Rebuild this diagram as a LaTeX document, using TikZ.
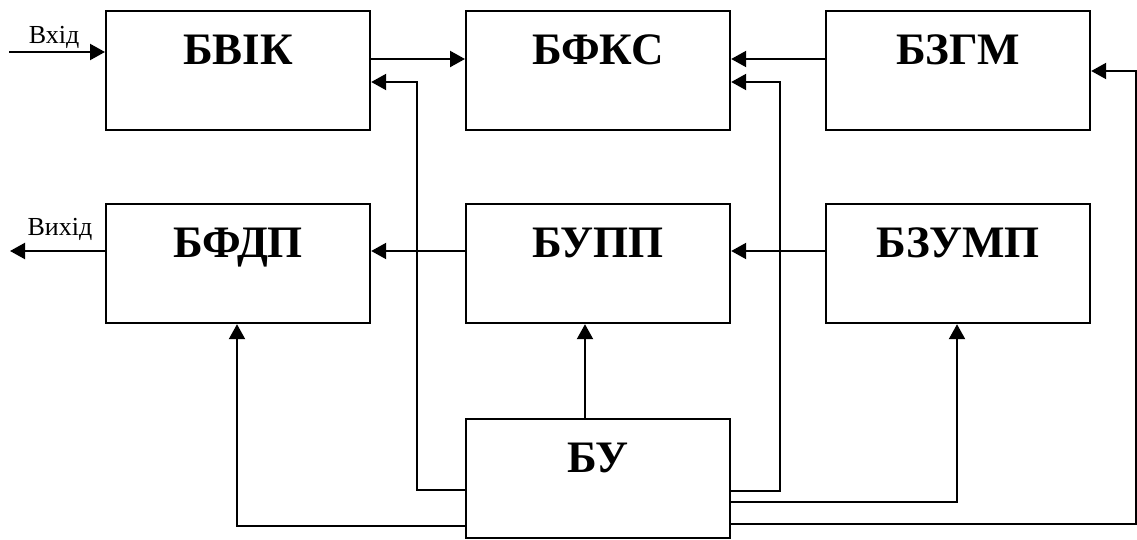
\documentclass[tikz,border=0pt]{standalone}
\usepackage{fontspec}
\setmainfont{Liberation Serif}
\usetikzlibrary{arrows.meta}
\begin{document}
\begin{tikzpicture}[x=1pt,y=-1pt,
  blk/.style={draw,line width=2.2pt,minimum width=264pt,minimum height=119pt,anchor=north west,inner sep=0pt,
    label={[anchor=base,yshift=-54pt,font=\fontsize{45}{48}\selectfont\bfseries]north:#1}},
  wire/.style={line width=2.2pt},
  arr/.style={wire,-{Triangle[length=15pt,width=16pt]}},
  io/.style={font=\fontsize{26}{28}\selectfont,anchor=base}]
\useasboundingbox (0,0) rectangle (1137,539);
\node[blk=БВІК]  (bvik)  at (105,10) {};
\node[blk=БФКС]  (bfks)  at (465,10) {};
\node[blk=БЗГМ]  (bzgm)  at (825,10) {};
\node[blk=БФДП]  (bfdp)  at (105,203) {};
\node[blk=БУПП]  (bupp)  at (465,203) {};
\node[blk=БЗУМП] (bzump) at (825,203) {};
\node[blk=БУ]    (bu)    at (465,418) {};
\coordinate (in) at (9,52);
\coordinate (out) at (10,251);
\node[io] (tin) at (54,43) {Вхід};
\node[io] (tout) at (60,235) {Вихід};
% input / output
\draw[arr] (in) -- (in -| bvik.west);
\draw[arr] (out -| bfdp.west) -- (out);
% top row
\draw[arr] (bvik.east |- 0,59) -- (bfks.west |- 0,59);
\draw[arr] (bzgm.west |- 0,59) -- (bfks.east |- 0,59);
% middle row
\draw[arr] (bzump.west |- 0,251) -- (bupp.east |- 0,251);
\draw[arr] (bupp.west |- 0,251) -- (bfdp.east |- 0,251);
% BU feedback lines
\draw[arr] (bu.west |- 0,490) -- (417,490) -- (417,82) -- (bvik.east |- 0,82);
\draw[arr] (bu.east |- 0,491) -- (780,491) -- (780,82) -- (bfks.east |- 0,82);
\draw[arr] (bu.east |- 0,502) -- (957,502) -- (957,0 |- bzump.south);
\draw[arr] (bu.east |- 0,524) -- (1136,524) -- (1136,71) -- (bzgm.east |- 0,71);
\draw[arr] (bu.west |- 0,526) -- (237,526) -- (237,0 |- bfdp.south);
\draw[arr] (585,0 |- bu.north) -- (585,0 |- bupp.south);
\end{tikzpicture}
\end{document}
